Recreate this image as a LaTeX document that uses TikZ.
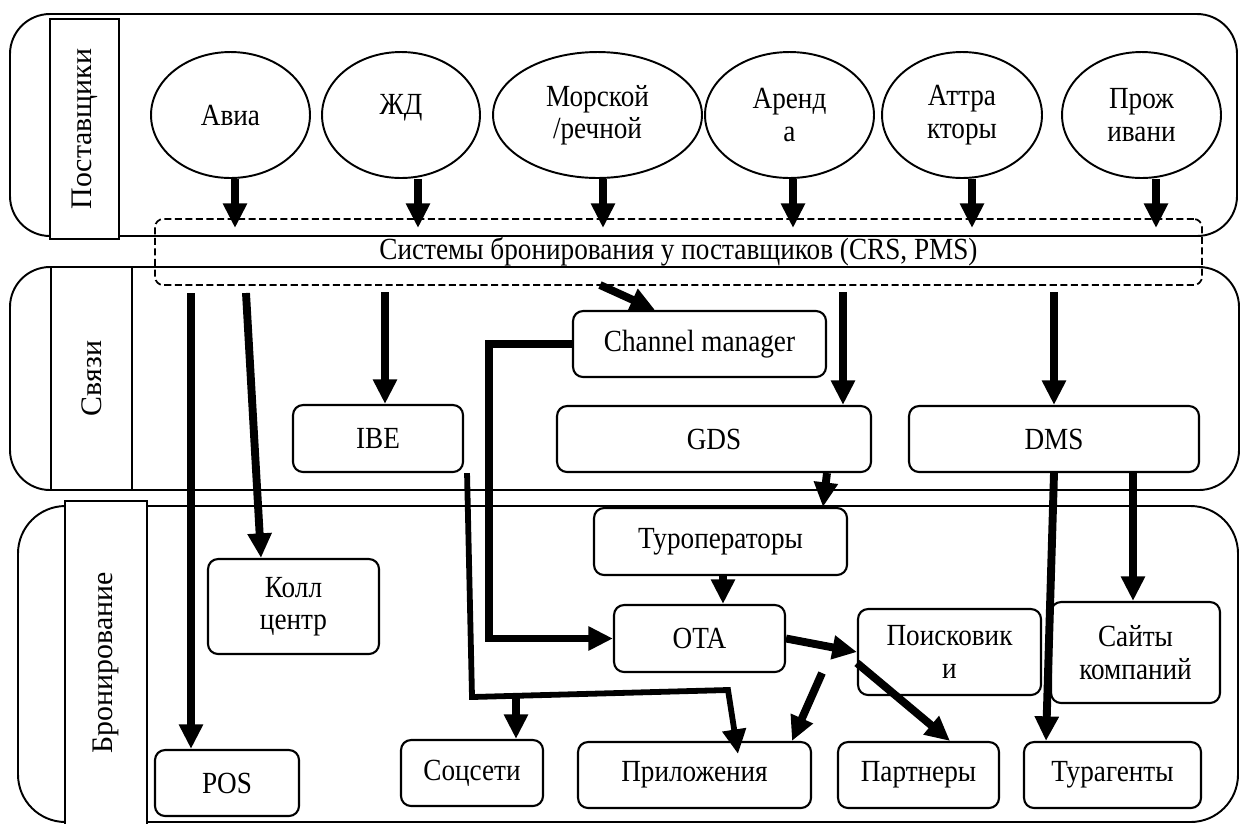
\documentclass[tikz,border=0pt]{standalone}
\usepackage{fontspec}
\setmainfont[FakeStretch=0.885]{Liberation Serif}
\newfontfamily\lanefont{Liberation Serif}
\usetikzlibrary{arrows.meta,shapes.geometric}
\begin{document}
\begin{tikzpicture}[x=0.02cm,y=-0.02cm,
  font=\fontsize{17.5}{18.5}\selectfont,
  band/.style={draw,line width=1.1pt,rounded corners=0.8cm},
  lane/.style={draw,fill=white,line width=1.1pt,rotate=90,inner sep=0pt,font=\lanefont\fontsize{17}{20}\selectfont},
  supplier/.style={draw,ellipse,line width=1.1pt,inner sep=0pt,minimum height=2.52cm,align=center},
  unit/.style={draw,fill=white,rounded corners=0.2cm,line width=1.2pt,inner sep=0pt,align=center,minimum height=1.32cm},
  crsbox/.style={draw,dash pattern=on 4pt off 2pt,line width=1pt,rounded corners=0.16cm,minimum width=20.94cm,minimum height=1.32cm,inner sep=0pt},
  arr/.style={line width=4.5pt,-{Triangle[width=13pt,length=14pt]}},
  thinarr/.style={line width=3.3pt,-{Triangle[width=13pt,length=14pt]}}
]
\useasboundingbox (0,0) rectangle (1240,823);

% three swim lanes
\draw[band] (10,14) rectangle (1237,236);
\draw[band] (10,267) rectangle (1239,490);
\draw[band,rounded corners=0.95cm] (18,506) rectangle (1238,822);

\node[lane,minimum width=4.4cm,minimum height=1.38cm] (lsup) at (84.5,129) {Поставщики};
\node[lane,minimum width=4.46cm,minimum height=1.62cm] (llink) at (91.5,378.5) {Связи};
\node[lane,minimum width=6.48cm,minimum height=1.64cm] (lbook) at (106,663) {Бронирование};

% suppliers
\node[supplier,minimum width=3.18cm] (avia) at (230.5,115) {Авиа};
\node[supplier,minimum width=3.16cm] (rail) at (401,115) {ЖД\\[-12pt]\strut};
\node[supplier,minimum width=4.18cm] (sea) at (597.5,115) {Морской\\/речной};
\node[supplier,minimum width=3.38cm] (rent) at (789.5,115) {Аренд\\а};
\node[supplier,minimum width=3.2cm] (attr) at (962,115) {Аттра\\кторы};
\node[supplier,minimum width=3.18cm] (stay) at (1141.5,115) {Прож\\ивани};

% supplier booking systems
\node[crsbox] (crs) at (678.5,252) {Системы бронирования у поставщиков (CRS, PMS)};

\coordinate (a1) at (235,228);
\coordinate (a2) at (418,228);
\coordinate (a3) at (603,228);
\coordinate (a4) at (793,228);
\coordinate (a5) at (972,228);
\coordinate (a6) at (1156,228);
\draw[arr] (avia.south -| a1) -- (a1);
\draw[arr] (rail.south -| a2) -- (a2);
\draw[arr] (sea.south -| a3) -- (a3);
\draw[arr] (rent.south -| a4) -- (a4);
\draw[arr] (attr.south -| a5) -- (a5);
\draw[arr] (stay.south -| a6) -- (a6);

% connection layer
\node[unit,minimum width=5.06cm] (chm) at (699.5,344) {Channel manager};
\node[unit,minimum width=3.4cm,minimum height=1.34cm] (ibe) at (378,438.5) {IBE};
\node[unit,minimum width=6.28cm] (gds) at (714,439) {GDS};
\node[unit,minimum width=5.8cm] (dms) at (1054,439) {DMS};

% booking layer
\node[unit,minimum width=5.06cm,minimum height=1.34cm] (tour) at (720.5,541.5) {Туроператоры};
\node[unit,minimum width=3.42cm,minimum height=1.34cm] (ota) at (699.5,638.5) {OTA};
\node[unit,minimum width=3.66cm,minimum height=1.72cm] (srch) at (949.5,652) {Поисковик\\и};
\node[unit,minimum width=3.38cm,minimum height=2.02cm] (sites) at (1135.5,652.5) {Сайты\\компаний};
\node[unit,minimum width=3.42cm,minimum height=1.9cm] (call) at (293.5,606.5) {Колл\\центр};
\node[unit,minimum width=2.88cm] (pos) at (227,783) {POS};
\node[unit,minimum width=2.84cm] (soc) at (472,773) {Соцсети};
\node[unit,minimum width=4.66cm] (apps) at (694.5,775) {Приложения};
\node[unit,minimum width=3.22cm] (part) at (918.5,775) {Партнеры};
\node[unit,minimum width=3.54cm] (turag) at (1112.5,775) {Турагенты};

% links out of the booking systems
\coordinate (s1) at (191,293);
\coordinate (s2) at (246,293);
\coordinate (s3) at (385,292);
\coordinate (s4) at (600,285);
\coordinate (s5) at (843,292);
\coordinate (s6) at (1054,292);
\draw[arr] (s1) -- (pos.north -| s1);
\draw[arr] (s2) -- ([xshift=-0.65cm]call.north);
\draw[arr] (s3) -- (ibe.north -| s3);
\draw[arr] (s4) -- ([xshift=-0.89cm]chm.north);
\draw[arr] (s5) -- (gds.north -| s5);
\draw[arr] (s6) -- (dms.north -| s6);

% channel manager to OTA
\draw[arr] (chm.west) -- ++(-83,0) |- (ota.west);

% IBE to apps and social networks
\coordinate (j1) at (472,697);
\coordinate (j2) at (728,690);
\coordinate (j3) at (516,695.5);
\draw[thinarr] ([xshift=0.06cm]ibe.south east) -- (j1) -- (j2) -- ([xshift=0.87cm,yshift=-0.26cm]apps.north);
\draw[arr] (j3) -- (soc.north -| j3);

% distribution chain
\draw[arr] ([xshift=2.26cm]gds.south) -- ([xshift=2.05cm]tour.north);
\draw[arr] ([xshift=0.05cm]tour.south) -- ([xshift=0.47cm]ota.north);
\draw[arr] (ota.east) -- (srch.west);
\draw[arr] ([yshift=-0.22cm]srch.west) -- ([xshift=0.63cm]part.north);
\coordinate (f1) at (822,673);
\draw[arr] (f1) -- ([xshift=1.95cm]apps.north);
\draw[arr] (dms.south) -- ([xshift=-1.33cm]turag.north);
\draw[arr] ([xshift=1.58cm]dms.south) -- ([xshift=-0.05cm]sites.north);
\end{tikzpicture}
\end{document}
